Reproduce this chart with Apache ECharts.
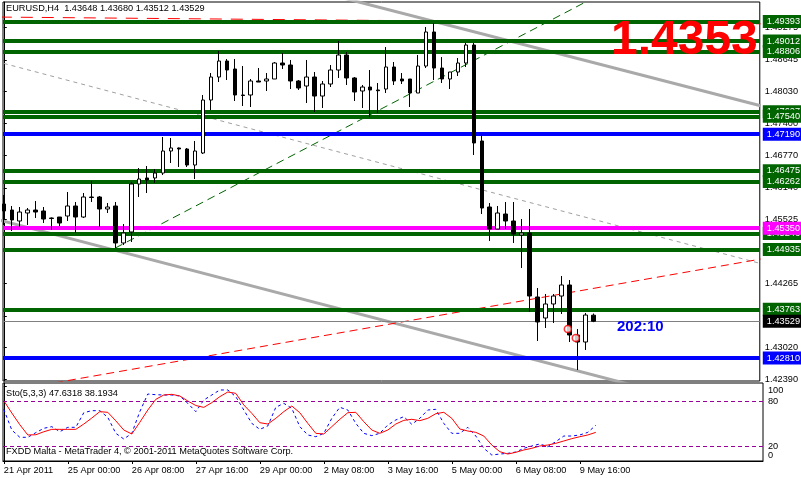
<!DOCTYPE html>
<html><head><meta charset="utf-8">
<script src="https://cdn.jsdelivr.net/npm/echarts@6/dist/echarts.min.js"></script>
<style>html,body{margin:0;padding:0;background:#fff}#c{width:801px;height:478px}</style>
</head><body><div id="c"></div>
<script>
// ---- data ----
const symbolName = 'EURUSD,H4';
const opens  = [1.45824,1.45706,1.45491,1.45648,1.45706,1.45687,1.45550,1.45569,1.45589,1.45785,1.45569,1.45961,1.45961,1.45726,1.45785,1.45061,1.45276,1.46215,1.46333,1.46333,1.46430,1.46861,1.46920,1.46900,1.46587,1.46822,1.47859,1.48309,1.48622,1.48466,1.47957,1.47957,1.48231,1.48231,1.48270,1.48583,1.48544,1.48231,1.48133,1.48309,1.47937,1.48172,1.48446,1.48740,1.48290,1.48035,1.48113,1.48055,1.48074,1.48505,1.48270,1.48270,1.47996,1.48524,1.49190,1.48485,1.48270,1.48407,1.48583,1.48935,1.47057,1.45765,1.45334,1.45628,1.45491,1.45217,1.45256,1.44004,1.43593,1.43867,1.44023,1.44239,1.43260,1.43123,1.43648];
const closes = [1.45687,1.45511,1.45667,1.45706,1.45667,1.45530,1.45540,1.45452,1.45785,1.45569,1.45961,1.45951,1.45726,1.45765,1.45061,1.45256,1.46215,1.46313,1.46293,1.46430,1.46861,1.46920,1.46900,1.46587,1.46861,1.47859,1.48309,1.48622,1.48446,1.47957,1.47947,1.48231,1.48211,1.48270,1.48583,1.48544,1.48231,1.48094,1.48309,1.47937,1.48172,1.48446,1.48740,1.48290,1.48016,1.48113,1.48055,1.48041,1.48505,1.48231,1.48231,1.47996,1.48524,1.49190,1.48485,1.48270,1.48407,1.48583,1.48935,1.47018,1.45745,1.45334,1.45648,1.45491,1.45237,1.45256,1.44023,1.43515,1.43867,1.44023,1.44239,1.43260,1.43123,1.43651,1.43529];
const lows   = [1.45413,1.45295,1.45374,1.45413,1.45550,1.45452,1.45315,1.45393,1.45491,1.45256,1.45550,1.45863,1.45374,1.45648,1.44963,1.45021,1.45080,1.45961,1.46039,1.46235,1.46391,1.46626,1.46548,1.46548,1.46313,1.46802,1.47663,1.48211,1.48250,1.47839,1.47742,1.47722,1.48211,1.48035,1.48270,1.48466,1.48074,1.48055,1.47800,1.47624,1.47702,1.48113,1.48290,1.48153,1.47839,1.47702,1.47526,1.47605,1.47996,1.48153,1.48172,1.47722,1.47996,1.48485,1.48250,1.48192,1.48074,1.48329,1.48505,1.46783,1.45628,1.45100,1.45334,1.45334,1.45061,1.44571,1.43710,1.43143,1.43397,1.43495,1.43671,1.43123,1.42575,1.42967,1.43512];
const highs  = [1.46000,1.45785,1.45765,1.45745,1.45882,1.45765,1.45560,1.45569,1.46059,1.45863,1.46039,1.46274,1.45980,1.45843,1.45863,1.45432,1.46254,1.46528,1.46567,1.46509,1.47135,1.47115,1.46929,1.46920,1.47057,1.47957,1.48387,1.48818,1.48661,1.48661,1.48524,1.48270,1.48485,1.48387,1.48603,1.48779,1.48642,1.48250,1.48642,1.48407,1.48231,1.48544,1.49014,1.48798,1.48309,1.48153,1.48446,1.48192,1.48896,1.48603,1.48387,1.48270,1.48740,1.49288,1.49366,1.48700,1.48407,1.48681,1.48975,1.48975,1.47194,1.45843,1.45785,1.45863,1.45863,1.45530,1.45726,1.44180,1.44062,1.44062,1.44415,1.44336,1.43377,1.43691,1.43680];

const stochK = [68.9,41.3,31.6,31.6,37.8,43.6,45.8,39.1,44.9,44.9,64.4,67.1,67.1,58.2,36.9,29.3,36.9,65.8,89.3,88.4,88,88,86.7,76.9,65.8,81.3,88,94.7,94.7,85.8,68,50.2,42.2,46.7,71.6,76.9,70.2,45.8,34.7,32.4,36.9,56.9,71.6,68,50.2,36.9,33.8,36.9,48,54.7,59.1,48.9,56.9,68,68.9,50.2,36.9,36.9,44.9,33.3,16.9,8,9.3,10.2,12,16.9,20,22.7,19.1,25.8,33.3,33.3,34.7,38.2,47.6318];
const stochD = [80.4,64,48.4,34.7,35,39,42.2,42.2,42.2,42.2,49.3,57.3,65.8,64.9,53.6,41.3,36,51.6,68,82.2,88,88.9,86.7,80,74,71.5,77.8,85.8,92,90.2,74.7,63.6,51.1,49.3,56.9,65.8,73.3,64.4,50.2,36.9,36,45.8,55.6,64.4,64.9,52.4,41.3,36.9,41.3,49.3,54.2,55.6,53.8,56.9,63.1,64.9,56.9,42.7,40,38.2,33.3,21.3,12.4,9.3,11.6,14.7,16.9,20,21.3,23.6,26.7,29.8,32.4,34.7,38.1934];

const xTickIndex  = [0,8,16,24,32,40,48,56,64,72];
const xTickLabels = ['21 Apr 2011','25 Apr 00:00','26 Apr 08:00','27 Apr 16:00','29 Apr 00:00','2 May 08:00','3 May 16:00','5 May 00:00','6 May 08:00','9 May 16:00'];
const priceTicks  = [1.42390,1.43020,1.43635,1.44265,1.44895,1.45525,1.46140,1.46770,1.47400,1.48030,1.48645,1.49275];
const stochTicks  = [0,20,80,100];
const stochLevels = [20,80];

const greenLevels   = [1.49393,1.49012,1.48806,1.47627,1.47540,1.46475,1.46262,1.45246,1.44935,1.43763];
const blueLevels    = [1.47190,1.42810];
const magentaLevels = [1.45350];
const bidPrice      = 1.43529;

const channelLow   = [[-1,1.45528],[80,1.42234]];
const channelHigh  = [[40,1.49960],[95,1.47747]];
const channelMid   = [[0,1.48575],[95,1.44659]];
const greenTrend   = [[14,1.44963],[75,1.49937]];
const redTrend     = [[0,1.42149],[95,1.44746]];
const redTopTrend  = [[-0.5,1.49482],[95,1.49350]];
const orderMarks   = [[70.8,1.43377],[71.8,1.43201]];
const timerText    = '202:10';

// ---- chart ----
const FONT = "'Liberation Sans',Arial,sans-serif";
const FS = 9.2;
const XMIN = -0.1, XMAX = 94.9;

function hLevels(levels, color, width, bg) {
  return {
    type: 'line', xAxisIndex: 0, yAxisIndex: 0, data: [], silent: true, z: 1,
    markLine: {
      symbol: ['none','none'], silent: true, animation: false, precision: 5,
      lineStyle: { color: color, width: width, type: 'solid' },
      label: { show: true, position: 'end', distance: 3, formatter: p => Number(p.value).toFixed(5),
        color: '#fff', backgroundColor: bg, padding: [2,3,1,4], fontSize: FS, lineHeight: 10, fontFamily: FONT },
      data: levels.map(v => ({ yAxis: v }))
    }
  };
}
function trend(points, color, width, type, z) {
  return { type: 'line', xAxisIndex: 0, yAxisIndex: 0, data: points, symbol: 'none', silent: true,
    clip: true, z: z || 3, animation: false, lineStyle: { color: color, width: width, type: type || 'solid' } };
}

const chart = echarts.init(document.getElementById('c'), null, { renderer: 'canvas' });
const candleData = opens.map((o, i) => [i, o, closes[i], lows[i], highs[i]]);
const last = opens.length - 1;

chart.setOption({
  animation: false,
  backgroundColor: '#fff',
  textStyle: { fontFamily: FONT },
  grid: [
    { left: 3, right: 38, top: 2, height: 379, show: true, borderColor: '#000', borderWidth: 1, backgroundColor: '#fff' },
    { left: 3, right: 38, top: 383, height: 78, show: true, borderColor: '#000', borderWidth: 1 }
  ],
  xAxis: [
    { type: 'value', gridIndex: 0, min: XMIN, max: XMAX, show: false, splitLine: { show: false } },
    { type: 'value', gridIndex: 1, min: XMIN, max: XMAX, splitLine: { show: false },
      axisLine: { show: true, lineStyle: { color: '#000' } },
      axisTick: { show: true, customValues: xTickIndex, length: 3, lineStyle: { color: '#000' } },
      axisLabel: { show: true, customValues: xTickIndex, align: 'left', margin: 5, color: '#000', fontSize: FS, fontFamily: FONT,
        formatter: v => xTickLabels[xTickIndex.indexOf(Math.round(v))] || '' } }
  ],
  yAxis: [
    { type: 'value', gridIndex: 0, position: 'right', min: 1.42360, max: 1.49777, splitLine: { show: false },
      axisLine: { show: true, lineStyle: { color: '#000' } },
      axisTick: { show: true, customValues: priceTicks, length: 3, lineStyle: { color: '#000' } },
      axisLabel: { show: true, customValues: priceTicks, margin: 5, color: '#000', fontSize: FS, fontFamily: FONT,
        formatter: v => Number(v).toFixed(5) } },
    { type: 'value', gridIndex: 1, position: 'right', min: 0, max: 104, splitLine: { show: false },
      axisLine: { show: true, lineStyle: { color: '#000' } },
      axisTick: { show: true, customValues: stochTicks, length: 3, lineStyle: { color: '#000' } },
      axisLabel: { show: true, customValues: stochTicks, margin: 5, color: '#000', fontSize: FS, fontFamily: FONT,
        formatter: v => { const r = Math.round(v); return r === 100 ? '{t|100}' : (r === 0 ? '{b|0}' : String(r)); },
        rich: { t: { padding: [8,0,0,0], fontSize: FS, color: '#000' }, b: { padding: [0,0,12,0], fontSize: FS, color: '#000' } } } }
  ],
  series: [
    hLevels(greenLevels, '#006400', 4, '#006400'),
    hLevels(blueLevels, '#0000ff', 4, '#0000ff'),
    hLevels(magentaLevels, '#ff00ff', 4, '#ff00ff'),
    {
      type: 'line', xAxisIndex: 0, yAxisIndex: 0, data: [], silent: true, z: 2,
      markLine: { symbol: ['none','none'], silent: true, animation: false, precision: 5,
        lineStyle: { color: '#808080', width: 1, type: 'solid' },
        label: { show: true, position: 'end', distance: 3, formatter: p => Number(p.value).toFixed(5),
          color: '#fff', backgroundColor: '#000', padding: [2,3,1,4], fontSize: FS, lineHeight: 10, fontFamily: FONT },
        data: [{ yAxis: bidPrice }] }
    },
    trend(channelLow, '#a9a9a9', 3),
    trend(channelHigh, '#a9a9a9', 3),
    trend(channelMid, '#a0a0a0', 1, [4,4]),
    trend(greenTrend, '#006400', 1, [8,5]),
    trend(redTrend, '#ff0000', 1, [8,5]),
    trend(redTopTrend, '#ff0000', 1, [12,9], 4),
    {
      type: 'candlestick', xAxisIndex: 0, yAxisIndex: 0, data: candleData, barWidth: 4, z: 5, silent: true,
      itemStyle: { color: '#fff', color0: '#000', borderColor: '#000', borderColor0: '#000', borderWidth: 1 }
    },
    {
      type: 'scatter', xAxisIndex: 0, yAxisIndex: 0, data: orderMarks, symbol: 'circle', symbolSize: 7, z: 6, silent: true,
      itemStyle: { color: '#fff', borderColor: '#ff0000', borderWidth: 1.5 }
    },
    {
      type: 'line', xAxisIndex: 1, yAxisIndex: 1, data: stochK.map((v, i) => [i, v]), symbol: 'none', silent: true,
      lineStyle: { color: '#0000ff', width: 1, type: [3,3] },
      markLine: { symbol: ['none','none'], silent: true, animation: false, label: { show: false },
        lineStyle: { color: '#990099', width: 1, type: [4,3] }, data: stochLevels.map(v => ({ yAxis: v })) }
    },
    {
      type: 'line', xAxisIndex: 1, yAxisIndex: 1, data: stochD.map((v, i) => [i, v]), symbol: 'none', silent: true,
      lineStyle: { color: '#ff0000', width: 1 }
    }
  ],
  graphic: [
    { type: 'text', left: 6, top: 4, z: 100, style: { fill: '#000', font: FS + "px " + FONT,
      text: symbolName + '  ' + opens[last].toFixed(5) + ' ' + highs[last].toFixed(5) + ' ' + lows[last].toFixed(5) + ' ' + closes[last].toFixed(5) } },
    { type: 'text', left: 611, top: 17, z: 100, style: { fill: '#ff0000', font: "bold 48px 'Liberation Sans',Arial,sans-serif", text: bidPrice.toFixed(4) } },
    { type: 'text', left: 617, top: 319, z: 100, style: { fill: '#0000ff', font: "bold 15px 'Liberation Sans',Arial,sans-serif", text: timerText } },
    { type: 'text', left: 6, top: 389, z: 100, style: { fill: '#000', font: FS + "px " + FONT,
      text: 'Sto(5,3,3) ' + stochK[last].toFixed(4) + ' ' + stochD[last].toFixed(4) } },
    { type: 'text', left: 6, top: 447, z: 100, style: { fill: '#000', font: FS + "px " + FONT,
      text: 'FXDD Malta - MetaTrader 4, © 2001-2011 MetaQuotes Software Corp.' } }
  ]
});
</script>
</body></html>
